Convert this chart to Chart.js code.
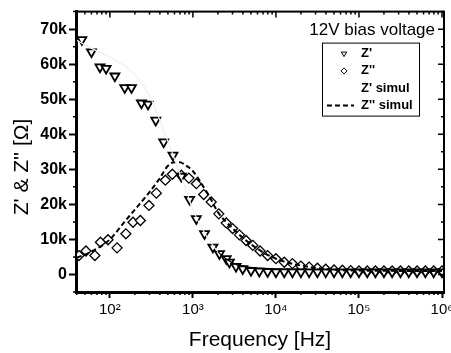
<!DOCTYPE html>
<html>
<head>
<meta charset="utf-8">
<script src="https://cdn.jsdelivr.net/npm/chart.js@4.4.1/dist/chart.umd.min.js"></script>
<style>
  html, body { margin: 0; padding: 0; background: #fff; }
</style>
</head>
<body>
<canvas id="myChart" width="451" height="353"></canvas>
<script>
// measured Z' (real part), ohms vs Hz
const zReFreq = [46, 60, 76, 90, 115, 151, 182, 240, 288, 357, 445, 576, 725, 912, 1100, 1380, 1740, 2090, 2520, 2750,
    3300, 3980, 5010, 6310, 7940, 10000, 12600, 15800, 20000, 25100, 31600, 39800, 50100, 63100, 79400,
    100000, 126000, 158000, 200000, 251000, 316000, 398000, 501000, 631000, 794000, 1000000];
const zRe = [67000, 63500, 59200, 58800, 56600, 53300, 53300, 48900, 48600, 44000, 37800, 34000, 28000, 21400, 15900, 11600, 7800, 5900, 4500, 3500,
    2300, 1600, 1100, 900, 800, 700, 700, 700, 700, 700, 700, 700, 700, 700, 700,
    700, 700, 700, 700, 700, 700, 700, 700, 700, 700, 700];

// measured Z'' (imaginary part)
const zImFreq = [42.5, 51.5, 66, 77, 95, 122, 156, 190, 233, 296, 363, 466, 565, 725, 895, 1100, 1350, 1660, 2050, 2520,
    3010, 3630, 4370, 5270, 6440, 7940, 10000, 12600, 15800, 20000, 25100, 31600, 39800, 50100, 63100, 79400,
    100000, 126000, 158000, 200000, 251000, 316000, 398000, 501000, 631000, 794000, 1000000];
const zIm = [5400, 6700, 5400, 9200, 9900, 7600, 11600, 14900, 15400, 19700, 23200, 26900, 28600, 28300, 27500, 25900, 22800, 20700, 17300, 14700,
    13100, 11300, 9700, 8300, 6700, 5400, 4500, 3500, 3100, 2400, 2100, 1800, 1500, 1300, 1200, 1100,
    1000, 1000, 1000, 1000, 1000, 1000, 1000, 1000, 1000, 1000, 1000];

// simulated curves
const simFreq = [40, 60, 100, 150, 200, 300, 400, 500, 600, 700, 800, 1000, 1300, 1600, 2000, 3000, 5000, 10000, 30000, 100000, 1000000];
const zReSim = [66800, 64500, 62000, 59500, 57000, 51000, 44000, 38000, 33000, 28500, 25000, 18500, 13000, 9500, 6500, 3300, 2000, 1600, 1400, 1400, 1400];
const zImSim = [4800, 6500, 10000, 15000, 18500, 23500, 27500, 31000, 32000, 32000, 31300, 29500, 25500, 22000, 17800, 13200, 8600, 4500, 1900, 1100, 1000];

const xTickValues = [100, 1000, 10000, 100000, 1000000];
const xTickLabels = ['10²', '10³', '10⁴', '10⁵', '10⁶'];
const yTickValues = [0, 10000, 20000, 30000, 40000, 50000, 60000, 70000];
const yTickLabels = ['0', '10k', '20k', '30k', '40k', '50k', '60k', '70k'];

const legendTitle = '12V bias voltage';
const FONT = '"Liberation Sans", Arial, sans-serif';

function toPoints(xs, ys){
    return xs.map((x, i) => ({x: x, y: ys[i]}));
}

// box frame, mirrored ticks, minor ticks, y title and the in-plot legend
const framePlugin = {
    id: 'frame',
    afterDraw(chart){
        const ctx = chart.ctx;
        const a = chart.chartArea;
        const xs = chart.scales.x, ys = chart.scales.y;
        ctx.save();
        ctx.strokeStyle = '#000';
        ctx.lineWidth = 2;
        ctx.strokeRect(a.left, a.top, a.right - a.left, a.bottom - a.top);

        ctx.lineWidth = 1.5;
        ctx.beginPath();
        for(let d = 1; d <= 6; d++){
            for(let m = 1; m <= 9; m++){
                const v = m * Math.pow(10, d);
                if(v < xs.min || v > xs.max) continue;
                const px = xs.getPixelForValue(v);
                ctx.moveTo(px, a.top);
                ctx.lineTo(px, a.top + (m === 1 ? 6 : 3));
                if(m !== 1){
                    ctx.moveTo(px, a.bottom);
                    ctx.lineTo(px, a.bottom + 3);
                }
            }
        }
        for(let v = -5000; v <= 75000; v += 5000){
            const py = ys.getPixelForValue(v);
            const major = v % 10000 === 0;
            ctx.moveTo(a.right, py);
            ctx.lineTo(a.right - (major ? 6 : 3), py);
            if(!major){
                ctx.moveTo(a.left, py);
                ctx.lineTo(a.left - 3, py);
            }
        }
        ctx.stroke();

        // y axis title
        ctx.fillStyle = '#000';
        ctx.font = '21px ' + FONT;
        ctx.textAlign = 'center';
        ctx.textBaseline = 'middle';
        ctx.translate(22, 167);
        ctx.rotate(-Math.PI / 2);
        ctx.fillText("Z' & Z'' [\u03A9]", 0, 0);
        ctx.restore();

        // legend
        ctx.save();
        ctx.fillStyle = '#000';
        ctx.font = '17px ' + FONT;
        ctx.textAlign = 'right';
        ctx.textBaseline = 'middle';
        ctx.fillText(legendTitle, a.right - 9, a.top + 19);

        const bx = a.right - 122, by = a.top + 31, bw = 97, bh = 73;
        ctx.lineWidth = 1;
        ctx.strokeRect(bx + 0.5, by + 0.5, bw, bh);
        ctx.font = 'bold 13px ' + FONT;
        ctx.textAlign = 'left';
        chart.data.datasets.forEach((ds, i) => {
            const ly = by + 11 + i * 17.3;
            const sx = bx + 22;
            if(ds.showLine === false){
                ctx.strokeStyle = ds.pointBorderColor;
                ctx.fillStyle = '#fff';
                Chart.helpers.drawPoint(ctx, {
                    pointStyle: ds.pointStyle,
                    radius: 3,
                    rotation: ds.rotation || 0,
                    borderWidth: 1.2
                }, sx, ly);
            } else {
                ctx.strokeStyle = ds.legendColor;
                ctx.lineWidth = ds.borderWidth;
                ctx.setLineDash(ds.borderDash || []);
                ctx.beginPath();
                ctx.moveTo(bx + 5, ly);
                ctx.lineTo(bx + 32, ly);
                ctx.stroke();
                ctx.setLineDash([]);
            }
            ctx.fillStyle = '#000';
            ctx.fillText(ds.label, bx + 39, ly);
        });
        ctx.restore();
    }
};

const ctx = document.querySelector('#myChart').getContext('2d');
const myChart = new Chart(ctx, {
    type: 'line',
    data: {
        datasets: [
            {
                label: "Z'",
                data: toPoints(zReFreq, zRe),
                showLine: false,
                pointStyle: 'triangle',
                rotation: 180,
                pointRadius: 5.2,
                pointBorderWidth: 1.8,
                pointBorderColor: '#000',
                pointBackgroundColor: '#fff',
                order: 2
            },
            {
                label: "Z''",
                data: toPoints(zImFreq, zIm),
                showLine: false,
                pointStyle: 'rectRot',
                pointRadius: 5,
                pointBorderWidth: 1.3,
                pointBorderColor: '#000',
                pointBackgroundColor: '#fff',
                order: 3
            },
            {
                label: "Z' simul",
                data: toPoints(simFreq, zReSim),
                borderColor: '#000',
                legendColor: '#fff',
                borderWidth: 1.2,
                pointRadius: 0,
                cubicInterpolationMode: 'monotone',
                segment: {
                    borderColor: c => c.p0.parsed.y > 8000 ? '#efefef' : '#000'
                },
                order: 0
            },
            {
                label: "Z'' simul",
                data: toPoints(simFreq, zImSim),
                borderColor: '#000',
                legendColor: '#000',
                borderWidth: 2,
                borderDash: [5, 3],
                pointRadius: 0,
                cubicInterpolationMode: 'monotone',
                order: 1
            }
        ]
    },
    options: {
        responsive: false,
        animation: false,
        layout: {
            padding: {top: 11, right: 6, left: 0, bottom: 0}
        },
        plugins: {
            legend: {display: false},
            tooltip: {enabled: false}
        },
        scales: {
            x: {
                type: 'logarithmic',
                min: 39.1,
                max: 1057000,
                afterBuildTicks: s => { s.ticks = xTickValues.map(v => ({value: v})); },
                afterFit: s => { s.height = 61; s.paddingRight = 0; s.paddingLeft = 0; },
                border: {display: true, color: '#000', width: 3},
                grid: {drawOnChartArea: false, color: '#000', tickLength: 6, tickWidth: 2},
                ticks: {
                    color: '#000',
                    padding: 3,
                    maxRotation: 0,
                    font: {family: FONT, size: 15},
                    callback: (v, i) => xTickLabels[i]
                },
                title: {
                    display: true,
                    text: 'Frequency [Hz]',
                    color: '#000',
                    font: {family: FONT, size: 21},
                    padding: {top: 6, bottom: 0}
                }
            },
            y: {
                min: -5000,
                max: 75000,
                afterBuildTicks: s => { s.ticks = yTickValues.map(v => ({value: v})); },
                afterFit: s => { s.width = 76; },
                border: {display: true, color: '#000', width: 3},
                grid: {drawOnChartArea: false, color: '#000', tickLength: 7, tickWidth: 2},
                ticks: {
                    color: '#000',
                    padding: 2,
                    font: {family: FONT, size: 16, weight: 'bold'},
                    callback: (v, i) => yTickLabels[i]
                }
            }
        }
    },
    plugins: [framePlugin]
});
</script>
</body>
</html>
